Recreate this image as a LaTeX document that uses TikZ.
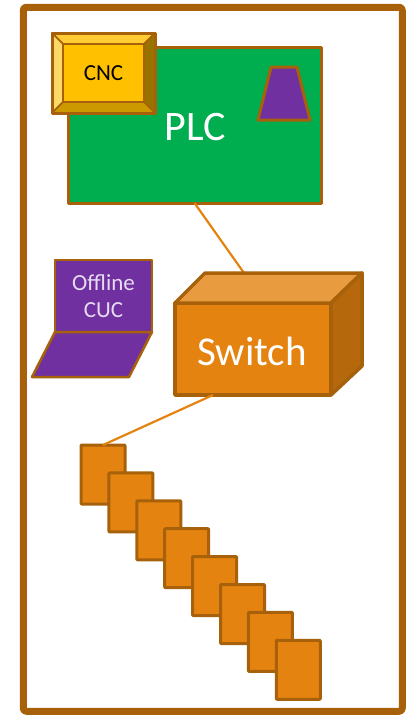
\documentclass[tikz,border=0pt]{standalone}
\usepackage{fontspec}
\setmainfont{Carlito}
\usetikzlibrary{calc}
\definecolor{edgeC}{HTML}{A6610A}
\definecolor{orangeC}{HTML}{E58310}
\definecolor{greenC}{HTML}{00AE50}
\definecolor{purpleC}{HTML}{7030A0}
\definecolor{goldC}{HTML}{FFC000}
\definecolor{bevT}{HTML}{FFCC33}
\definecolor{bevL}{HTML}{FFD966}
\definecolor{bevR}{HTML}{997300}
\definecolor{bevB}{HTML}{CC9A00}
\definecolor{swT}{HTML}{E99B40}
\definecolor{swR}{HTML}{B5690C}
\definecolor{lavC}{HTML}{E6DCF2}
\tikzset{
  x=1pt,y=-1pt,
  box/.style={draw=edgeC,line width=#1,line join=round,inner sep=0pt,outer sep=0pt},
  box/.default=3pt,
  portbox/.style={box=3pt,fill=orangeC,minimum width=44pt,minimum height=59pt,rounded corners=0.7pt},
  link/.style={draw=orangeC,line width=2.2pt},
  lab/.style={inner sep=0pt,outer sep=0pt,align=center}
}
\begin{document}
\begin{tikzpicture}
\useasboundingbox (0,0) rectangle (413,715);
\fill[white] (0,0) rectangle (413,715);
% frame
\node[box=7pt,rounded corners=3pt,minimum width=379pt,minimum height=704pt] (frame) at (212.75,359.25) {};
% PLC
\node[box=3pt,fill=greenC,minimum width=253pt,minimum height=156pt] (plc) at (194.5,125) {};
\node[lab,text=white,font=\fontsize{42}{42}\selectfont] (plclab) at (195,127) {PLC};
\filldraw[box=3pt,fill=purpleC] (271,67) -- (297,67) -- (310,120) -- (258,120) -- cycle;
% CNC
\node[box=3pt,fill=goldC,minimum width=103pt,minimum height=80pt] (cnc) at (103.5,73) {};
\coordinate (i1) at (63,44); \coordinate (i2) at (144,44); \coordinate (i3) at (144,102); \coordinate (i4) at (63,102);
\filldraw[box=1.5pt,draw=edgeC,fill=bevT] (cnc.north west) -- (cnc.north east) -- (i2) -- (i1) -- cycle;
\filldraw[box=1.5pt,fill=bevL] (cnc.north west) -- (i1) -- (i4) -- (cnc.south west) -- cycle;
\filldraw[box=1.5pt,fill=bevR] (cnc.north east) -- (i2) -- (i3) -- (cnc.south east) -- cycle;
\filldraw[box=1.5pt,fill=bevB] (cnc.south west) -- (i4) -- (i3) -- (cnc.south east) -- cycle;
\draw[box=3pt] (cnc.north west) rectangle (cnc.south east);
\draw[box=2.5pt] (i1) rectangle (i3);
\node[lab,text=black,font=\fontsize{23}{23}\selectfont] (cnclab) at (103.5,73.5) {CNC};
% Laptop
\node[box=2.5pt,fill=purpleC,minimum width=97pt,minimum height=72pt] (screen) at (103.5,296) {};
\filldraw[box=2.5pt,fill=purpleC] (screen.south west) -- (screen.south east) -- (129,377) -- (32,377) -- cycle;
\node[lab,text=lavC,font=\fontsize{23}{27}\selectfont] (cuclab) at (103.5,296) {Offline\\CUC};
% Switch
\node[box=3.5pt,fill=orangeC,minimum width=156pt,minimum height=92pt] (sw) at (253,349) {};
\coordinate (swbl) at (205,273);
\coordinate (swbr) at (362,273);
\coordinate (swlow) at (362,366);
\coordinate (swin) at (244,273);
\coordinate (swout) at (213,395);
\coordinate (pin) at (103,445);
\draw[link] (plc.south) -- (swin);
\filldraw[box=3.5pt,fill=swT] (sw.north west) -- (swbl) -- (swbr) -- (sw.north east) -- cycle;
\filldraw[box=3.5pt,fill=swR] (sw.north east) -- (swbr) -- (swlow) -- (sw.south east) -- cycle;
\node[lab,text=white,font=\fontsize{41}{41}\selectfont] (swlab) at (252,351) {Switch};
% Ports
\foreach \i in {0,...,7} {
  \node[portbox] (p\i) at ({103+27.9*\i},{474.5+27.9*\i}) {};
}
\draw[link] (swout) -- (p0.north);
\end{tikzpicture}
\end{document}
